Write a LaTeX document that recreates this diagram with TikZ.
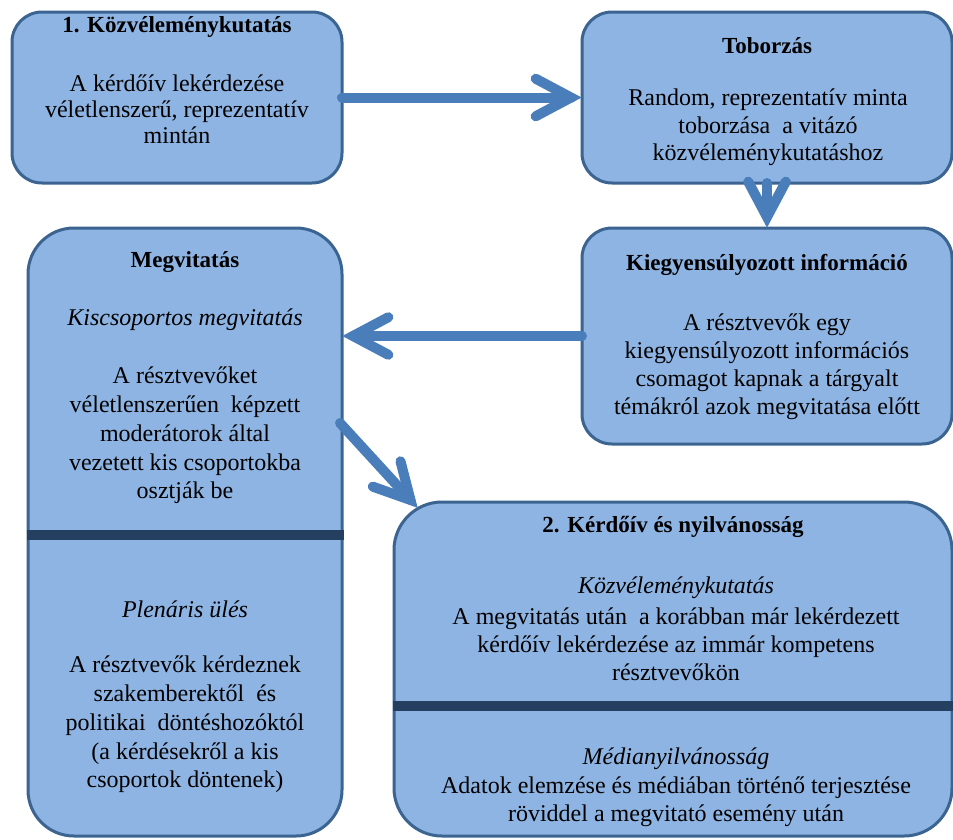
\documentclass[tikz,border=0pt]{standalone}
\usepackage{fontspec}
\setmainfont{Liberation Serif}
\usetikzlibrary{calc}
\definecolor{boxfill}{HTML}{8EB4E3}
\definecolor{boxline}{HTML}{3B6491}
\definecolor{arrowc}{HTML}{4A7EBB}
\definecolor{divc}{HTML}{243F60}
\tikzset{
  box/.style={draw=boxline, line width=3pt, fill=boxfill, rectangle, inner sep=0pt, outer sep=0pt},
  body/.style={align=center, inner sep=0pt, text=black, font=\fontsize{24}{28}\selectfont},
  head/.style={align=center, inner sep=0pt, text=black, font=\fontsize{23}{27}\selectfont\bfseries},
  ital/.style={align=center, inner sep=0pt, text=black, font=\fontsize{24}{28}\selectfont\itshape},
  arr/.style={draw=arrowc, line width=10pt, line cap=round, line join=miter},
  divider/.style={draw=divc, line width=10pt},
}
\newcommand\bigarrow[2]{%
  \draw[arr] (#1) -- (#2);
  \draw[arr] ($(#2)!40pt!28:(#1)$) -- (#2) -- ($(#2)!40pt!-28:(#1)$);
}
\begin{document}
\begin{tikzpicture}[x=1pt,y=-1pt]
\fill[white] (0,0) rectangle (953,839);
\useasboundingbox (0,0) rectangle (953,839);

% boxes
\node[box, rounded corners=30pt, minimum width=330pt, minimum height=171pt] (b1) at (177,97.5) {};
\node[box, rounded corners=30pt, minimum width=370pt, minimum height=171pt] (tob) at (767,97.5) {};
\node[box, rounded corners=30pt, minimum width=370pt, minimum height=216pt] (kie) at (767,336) {};
\node[box, rounded corners=46pt, minimum width=314pt, minimum height=608pt] (megv) at (185,532) {};
\node[box, rounded corners=48pt, minimum width=558pt, minimum height=334pt] (b2) at (673,669) {};

% dividers
\draw[divider] (26.5,535) -- (343.5,535);
\draw[divider] (392.5,705.5) -- (954,705.5);

% arrows
\coordinate (t1) at ($(tob.west)+(-11,0)$);
\bigarrow{b1.east}{t1}
\coordinate (t2) at ($(kie.north)+(0,-11)$);
\bigarrow{tob.south}{t2}
\coordinate (s3) at (megv.east |- kie.west);
\coordinate (t3) at ($(s3)+(11,0)$);
\bigarrow{kie.west}{t3}
\coordinate (s4) at (340,423);
\coordinate (t4) at (410.5,500);
\bigarrow{s4}{t4}

% texts box 1
\node[head] (h1) at (177,27) {1. Közvéleménykutatás};
\node[body, font=\fontsize{24}{26}\selectfont] (x1) at (177,109) {A kérdőív lekérdezése\\véletlenszerű, reprezentatív\\mintán};

% Toborzás
\node[head] (h2) at (767,46) {Toborzás};
\node[body, font=\fontsize{24}{27.5}\selectfont] (x2) at (768,127.5) {Random, reprezentatív minta\\toborzása~ a vitázó\\közvéleménykutatáshoz};

% Kiegyensúlyozott
\node[head] (h3) at (767,265) {Kiegyensúlyozott információ};
\node[body] (x3) at (767,367) {A résztvevők egy\\kiegyensúlyozott információs\\csomagot kapnak a tárgyalt\\témákról azok megvitatása előtt};

% Megvitatás
\node[head] (h4) at (185,262) {Megvitatás};
\node[ital] (i4a) at (185,320) {Kiscsoportos megvitatás};
\node[body, font=\fontsize{24}{28.75}\selectfont] (x4a) at (185,435.5) {A résztvevőket\\véletlenszerűen~ képzett\\moderátorok által\\vezetett kis csoportokba\\osztják be};
\node[ital] (i4b) at (185,609) {Plenáris ülés};
\node[body, font=\fontsize{24}{28.75}\selectfont] (x4b) at (185,724.5) {A résztvevők kérdeznek\\szakemberektől~ és\\politikai~ döntéshozóktól\\(a kérdésekről a kis\\csoportok döntenek)};

% Box 2
\node[head] (h5) at (673,527) {2. Kérdőív és nyilvánosság};
\node[ital] (i5a) at (676,588) {Közvéleménykutatás};
\node[body] (x5a) at (676,644) {A megvitatás után~ a korábban már lekérdezett\\kérdőív lekérdezése az immár kompetens\\résztvevőkön};
\node[ital] (i5b) at (676,759) {Médianyilvánosság};
\node[body] (x5b) at (676,802) {Adatok elemzése és médiában történő terjesztése\\röviddel a megvitató esemény után};
\end{tikzpicture}
\end{document}
